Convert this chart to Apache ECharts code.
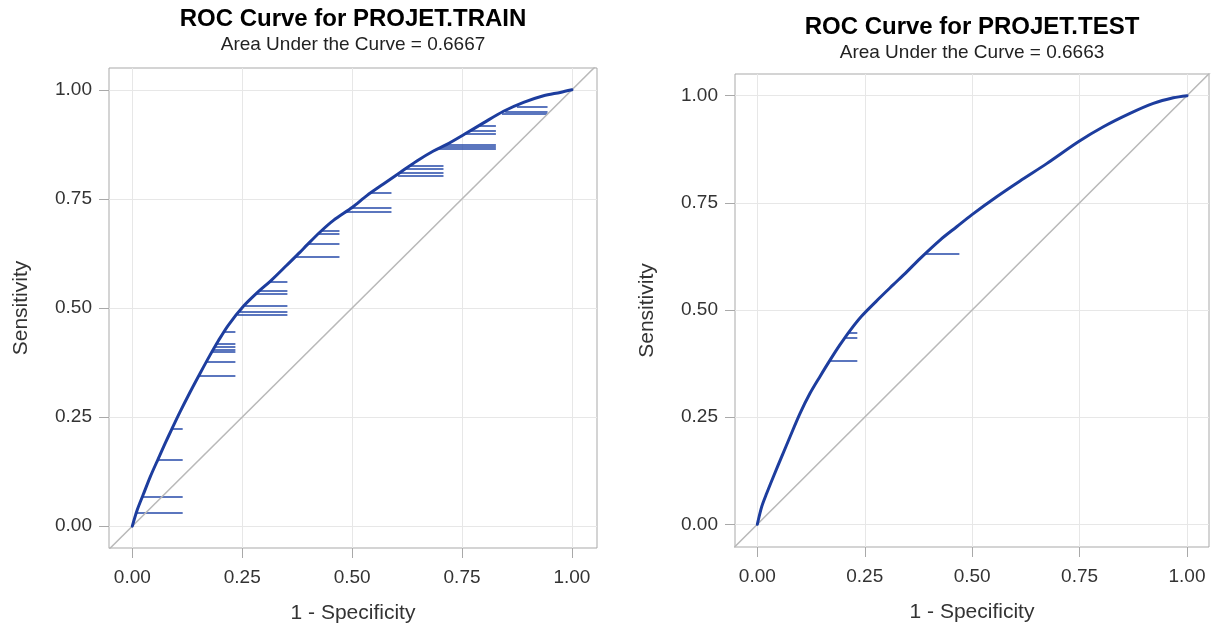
<!DOCTYPE html>
<html>
<head>
<meta charset="utf-8">
<script src="https://cdn.jsdelivr.net/npm/echarts@6/dist/echarts.min.js"></script>
<style>
  html, body { margin: 0; padding: 0; background: #fff; }
  #chart { width: 1213px; height: 629px; }
</style>
</head>
<body>
<div id="chart"></div>
<script>
// ROC points (1 - specificity, sensitivity) for the training set
const trainFpr = [0, 0.0115, 0.0251, 0.0403, 0.0592, 0.0744, 0.0896, 0.1086, 0.1313, 0.154, 0.1768, 0.1958, 0.2186,
  0.2527, 0.283, 0.3172, 0.3513, 0.3817, 0.397, 0.4272, 0.4575, 0.5007, 0.5335, 0.5712, 0.6092, 0.6473, 0.685,
  0.7155, 0.761, 0.7989, 0.8444, 0.8899, 0.9354, 0.9734, 1];
const trainTpr = [0, 0.038, 0.073, 0.112, 0.155, 0.189, 0.222, 0.262, 0.307, 0.350, 0.392, 0.425, 0.461,
  0.5038, 0.534, 0.5644, 0.598, 0.628, 0.644, 0.6742, 0.7008, 0.731, 0.7576, 0.7841, 0.8106, 0.837, 0.8598,
  0.875, 0.9015, 0.9242, 0.9508, 0.9712, 0.9864, 0.994, 1];

// ROC points for the test set
const testFpr = [0, 0.0102, 0.0218, 0.0373, 0.0567, 0.0761, 0.0994, 0.1226, 0.1459, 0.1692, 0.1925, 0.2157, 0.243,
  0.2855, 0.3165, 0.3477, 0.3786, 0.4252, 0.464, 0.4989, 0.5571, 0.6114, 0.6734, 0.7471, 0.8053, 0.8673, 0.9216,
  0.9682, 1];
const testTpr = [0, 0.0411, 0.0723, 0.111, 0.1577, 0.2043, 0.2589, 0.3056, 0.345, 0.383, 0.419, 0.452, 0.486,
  0.529, 0.559, 0.589, 0.62, 0.6632, 0.6942, 0.722, 0.7642, 0.801, 0.8415, 0.8925, 0.9275, 0.9587, 0.982,
  0.9951, 1];

// Horizontal tie segments: sensitivity, start and end of 1 - specificity
const trainStepTpr = [0.0303, 0.0667, 0.1515, 0.2235, 0.3447, 0.3773, 0.3992, 0.4053, 0.4114, 0.4189, 0.4462,
  0.4848, 0.4909, 0.5061, 0.5333, 0.5394, 0.5606, 0.6174, 0.6477, 0.6705, 0.678, 0.7212, 0.7288, 0.7636,
  0.803, 0.8106, 0.8182, 0.8258, 0.8652, 0.8697, 0.875, 0.9, 0.9053, 0.9167, 0.9447, 0.9492, 0.9621];
const trainStepFrom = [0.0092, 0.0228, 0.0577, 0.0902, 0.151, 0.170, 0.181, 0.184, 0.188, 0.192, 0.208,
  0.239, 0.2436, 0.2565, 0.2816, 0.2876, 0.3096, 0.3709, 0.4007, 0.4235, 0.4318, 0.4867, 0.4975, 0.542,
  0.6045, 0.6092, 0.62, 0.631, 0.6955, 0.7045, 0.7155, 0.7585, 0.767, 0.785, 0.8406, 0.8482, 0.8748];
const trainStepTo = [0.1146, 0.1146, 0.1146, 0.1146, 0.2345, 0.2345, 0.2345, 0.2345, 0.2345, 0.2345, 0.2345,
  0.3528, 0.3528, 0.3528, 0.3528, 0.3528, 0.3528, 0.4712, 0.4712, 0.4712, 0.4712, 0.5895, 0.5895, 0.5895,
  0.7078, 0.7078, 0.7078, 0.7078, 0.827, 0.827, 0.827, 0.827, 0.827, 0.827, 0.9445, 0.9445, 0.9445];

const testStepTpr = [0.381, 0.4353, 0.4478, 0.6305];
const testStepFrom = [0.166, 0.204, 0.2128, 0.3903];
const testStepTo = [0.2327, 0.2327, 0.2327, 0.4702];

// Axis ticks
const tickValues = [0, 0.25, 0.5, 0.75, 1];
const tickLabels = ['0.00', '0.25', '0.50', '0.75', '1.00'];

const titles = ['ROC Curve for PROJET.TRAIN', 'ROC Curve for PROJET.TEST'];
const subtitles = ['Area Under the Curve = 0.6667', 'Area Under the Curve = 0.6663'];
const xName = '1 - Specificity';
const yName = 'Sensitivity';

const FONT = '"Liberation Sans", Arial, sans-serif';
const CURVE = '#1d3d9e';
const STEP = '#2448a8';

function pairs(xs, ys) { return xs.map((x, i) => [x, ys[i]]); }
function steps(ys, from, to) {
  return ys.map((y, i) => ({ coords: [[from[i], y], [to[i], y]] }));
}
function labelOf(v) {
  const i = tickValues.findIndex(t => Math.abs(t - v) < 1e-9);
  return i < 0 ? '' : tickLabels[i];
}

function axisX(gridIndex, min, max) {
  return {
    type: 'value', gridIndex, min, max,
    name: xName, nameLocation: 'middle', nameGap: 55,
    nameTextStyle: { fontFamily: FONT, fontSize: 21, color: '#333' },
    axisLine: { show: false, onZero: false },
    axisTick: { show: true, length: 10, customValues: tickValues, lineStyle: { color: '#a9a9a9', width: 1 } },
    axisLabel: { customValues: tickValues, formatter: labelOf, margin: 20, fontFamily: FONT, fontSize: 19, color: '#333' },
    splitLine: { show: true, lineStyle: { color: '#e7e7e7', width: 1 } }
  };
}
function axisY(gridIndex, min, max) {
  return {
    type: 'value', gridIndex, min, max,
    name: yName, nameLocation: 'middle', nameGap: 77,
    nameTextStyle: { fontFamily: FONT, fontSize: 21, color: '#333' },
    axisLine: { show: false, onZero: false },
    axisTick: { show: true, length: 10, customValues: tickValues, lineStyle: { color: '#a9a9a9', width: 1 } },
    axisLabel: { customValues: tickValues, formatter: labelOf, margin: 17, fontFamily: FONT, fontSize: 19, color: '#333' },
    splitLine: { show: true, lineStyle: { color: '#e7e7e7', width: 1 } }
  };
}

function panelSeries(idx, fpr, tpr, stepY, stepFrom, stepTo) {
  return [
    {
      // chance diagonal
      type: 'line', xAxisIndex: idx, yAxisIndex: idx, clip: true, silent: true,
      data: [[-0.2, -0.2], [1.2, 1.2]], showSymbol: false,
      lineStyle: { color: '#b9b9b9', width: 1.5 }
    },
    {
      type: 'lines', coordinateSystem: 'cartesian2d', xAxisIndex: idx, yAxisIndex: idx, silent: true,
      data: steps(stepY, stepFrom, stepTo),
      lineStyle: { color: STEP, width: 1.6, opacity: 1 }
    },
    {
      type: 'line', xAxisIndex: idx, yAxisIndex: idx, silent: true,
      data: pairs(fpr, tpr), showSymbol: false, smooth: 0.3,
      lineStyle: { color: CURVE, width: 3, join: 'round', cap: 'round' }
    }
  ];
}

const titleBase = { padding: 0, textAlign: 'center' };
const option = {
  animation: false,
  backgroundColor: '#fff',
  title: [
    Object.assign({ text: titles[0], left: 353, top: 7,
      textStyle: { fontFamily: FONT, fontSize: 24, fontWeight: 'bold', color: '#000' } }, titleBase),
    Object.assign({ text: subtitles[0], left: 353, top: 35,
      textStyle: { fontFamily: FONT, fontSize: 19, fontWeight: 'normal', color: '#222' } }, titleBase),
    Object.assign({ text: titles[1], left: 972, top: 15,
      textStyle: { fontFamily: FONT, fontSize: 24, fontWeight: 'bold', color: '#000' } }, titleBase),
    Object.assign({ text: subtitles[1], left: 972, top: 43,
      textStyle: { fontFamily: FONT, fontSize: 19, fontWeight: 'normal', color: '#222' } }, titleBase)
  ],
  grid: [
    { left: 109, top: 68, width: 488, height: 484, show: true, borderColor: '#a9a9a9', borderWidth: 1, backgroundColor: '#fff' },
    { left: 735, top: 74, width: 474, height: 473, show: true, borderColor: '#a9a9a9', borderWidth: 1, backgroundColor: '#fff' }
  ],
  xAxis: [axisX(0, -0.053, 1.057), axisX(1, -0.052, 1.0512)],
  yAxis: [axisY(0, -0.05, 1.05), axisY(1, -0.053, 1.0506)],
  series: [].concat(
    panelSeries(0, trainFpr, trainTpr, trainStepTpr, trainStepFrom, trainStepTo),
    panelSeries(1, testFpr, testTpr, testStepTpr, testStepFrom, testStepTo)
  )
};

const chart = echarts.init(document.getElementById('chart'), null, { renderer: 'canvas' });
chart.setOption(option);
</script>
</body>
</html>
